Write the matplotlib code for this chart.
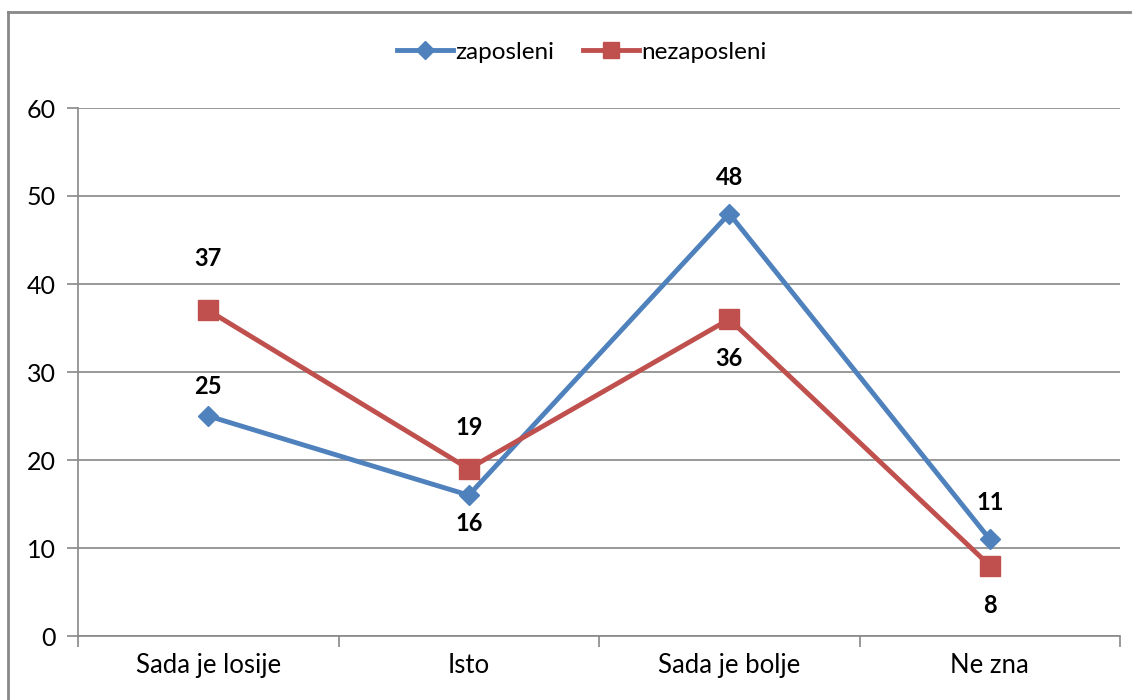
import matplotlib.pyplot as plt
from matplotlib.lines import Line2D

categories = ["Sada je losije", "Isto", "Sada je bolje", "Ne zna"]
zaposleni = [25, 16, 48, 11]
nezaposleni = [37, 19, 36, 8]

# label offsets in pixels (positive = above the point)
zap_off = [30, -28, 36, 37]
nez_off = [52, 41, -39, -40]

plt.rcParams['font.family'] = ['Lato', 'DejaVu Sans']

fig = plt.figure(figsize=(11.37, 7.0), dpi=100)
ax = fig.add_axes([78/1137, 1-636/700, (1120-78)/1137, (636-108)/700])

blue = "#4F81BD"
red = "#C0504D"
x = range(len(categories))

ax.plot(x, zaposleni, color=blue, lw=3.5, marker="D", ms=10, zorder=3)
ax.plot(x, nezaposleni, color=red, lw=3.5, marker="s", ms=14, zorder=3)

for vals, offs in ((zaposleni, zap_off), (nezaposleni, nez_off)):
    for i in x:
        ax.annotate(str(vals[i]), (i, vals[i]), xytext=(0, offs[i]), textcoords="offset pixels",
                    ha="center", va="center", fontsize=17, fontweight="bold")

ax.set_xlim(-0.5, len(categories)-0.5)
ax.set_ylim(0, 60)
ax.set_yticks(range(0, 61, 10))
ax.set_xticks([i - 0.5 for i in range(len(categories)+1)], minor=False)
ax.set_xticklabels([])
ax.set_xticks(list(x), minor=True)
ax.set_xticklabels(categories, minor=True)
ax.tick_params(axis="x", which="minor", length=0, pad=12, labelsize=18.5)
ax.tick_params(axis="x", which="major", length=8, color="#888888", width=1.2)
ax.tick_params(axis="y", length=8, color="#888888", width=1.2, labelsize=18, pad=8)
ax.yaxis.grid(True, color="#888888", lw=1.2)
ax.set_axisbelow(True)
for s in ("top", "right"):
    ax.spines[s].set_visible(False)
for s in ("left", "bottom"):
    ax.spines[s].set_color("#888888")
    ax.spines[s].set_linewidth(1.2)

handles = [Line2D([], [], color=blue, lw=3.5, marker="D", ms=9),
           Line2D([], [], color=red, lw=3.5, marker="s", ms=12)]
fig.legend(handles, ["zaposleni", "nezaposleni"], loc="center", bbox_to_anchor=(582/1137, 1-52/700),
           ncol=2, frameon=False, fontsize=17.5, handlelength=2.3, handletextpad=0.1, columnspacing=1.2)

# outer frame (left and top edges visible)
fig.add_artist(Line2D([8/1137, 8/1137], [0, 1-12/700], transform=fig.transFigure, color="#888888", lw=2))
fig.add_artist(Line2D([8/1137, 1130/1137], [1-12/700, 1-12/700], transform=fig.transFigure, color="#888888", lw=2))

fig.savefig("out.png", dpi=100)
